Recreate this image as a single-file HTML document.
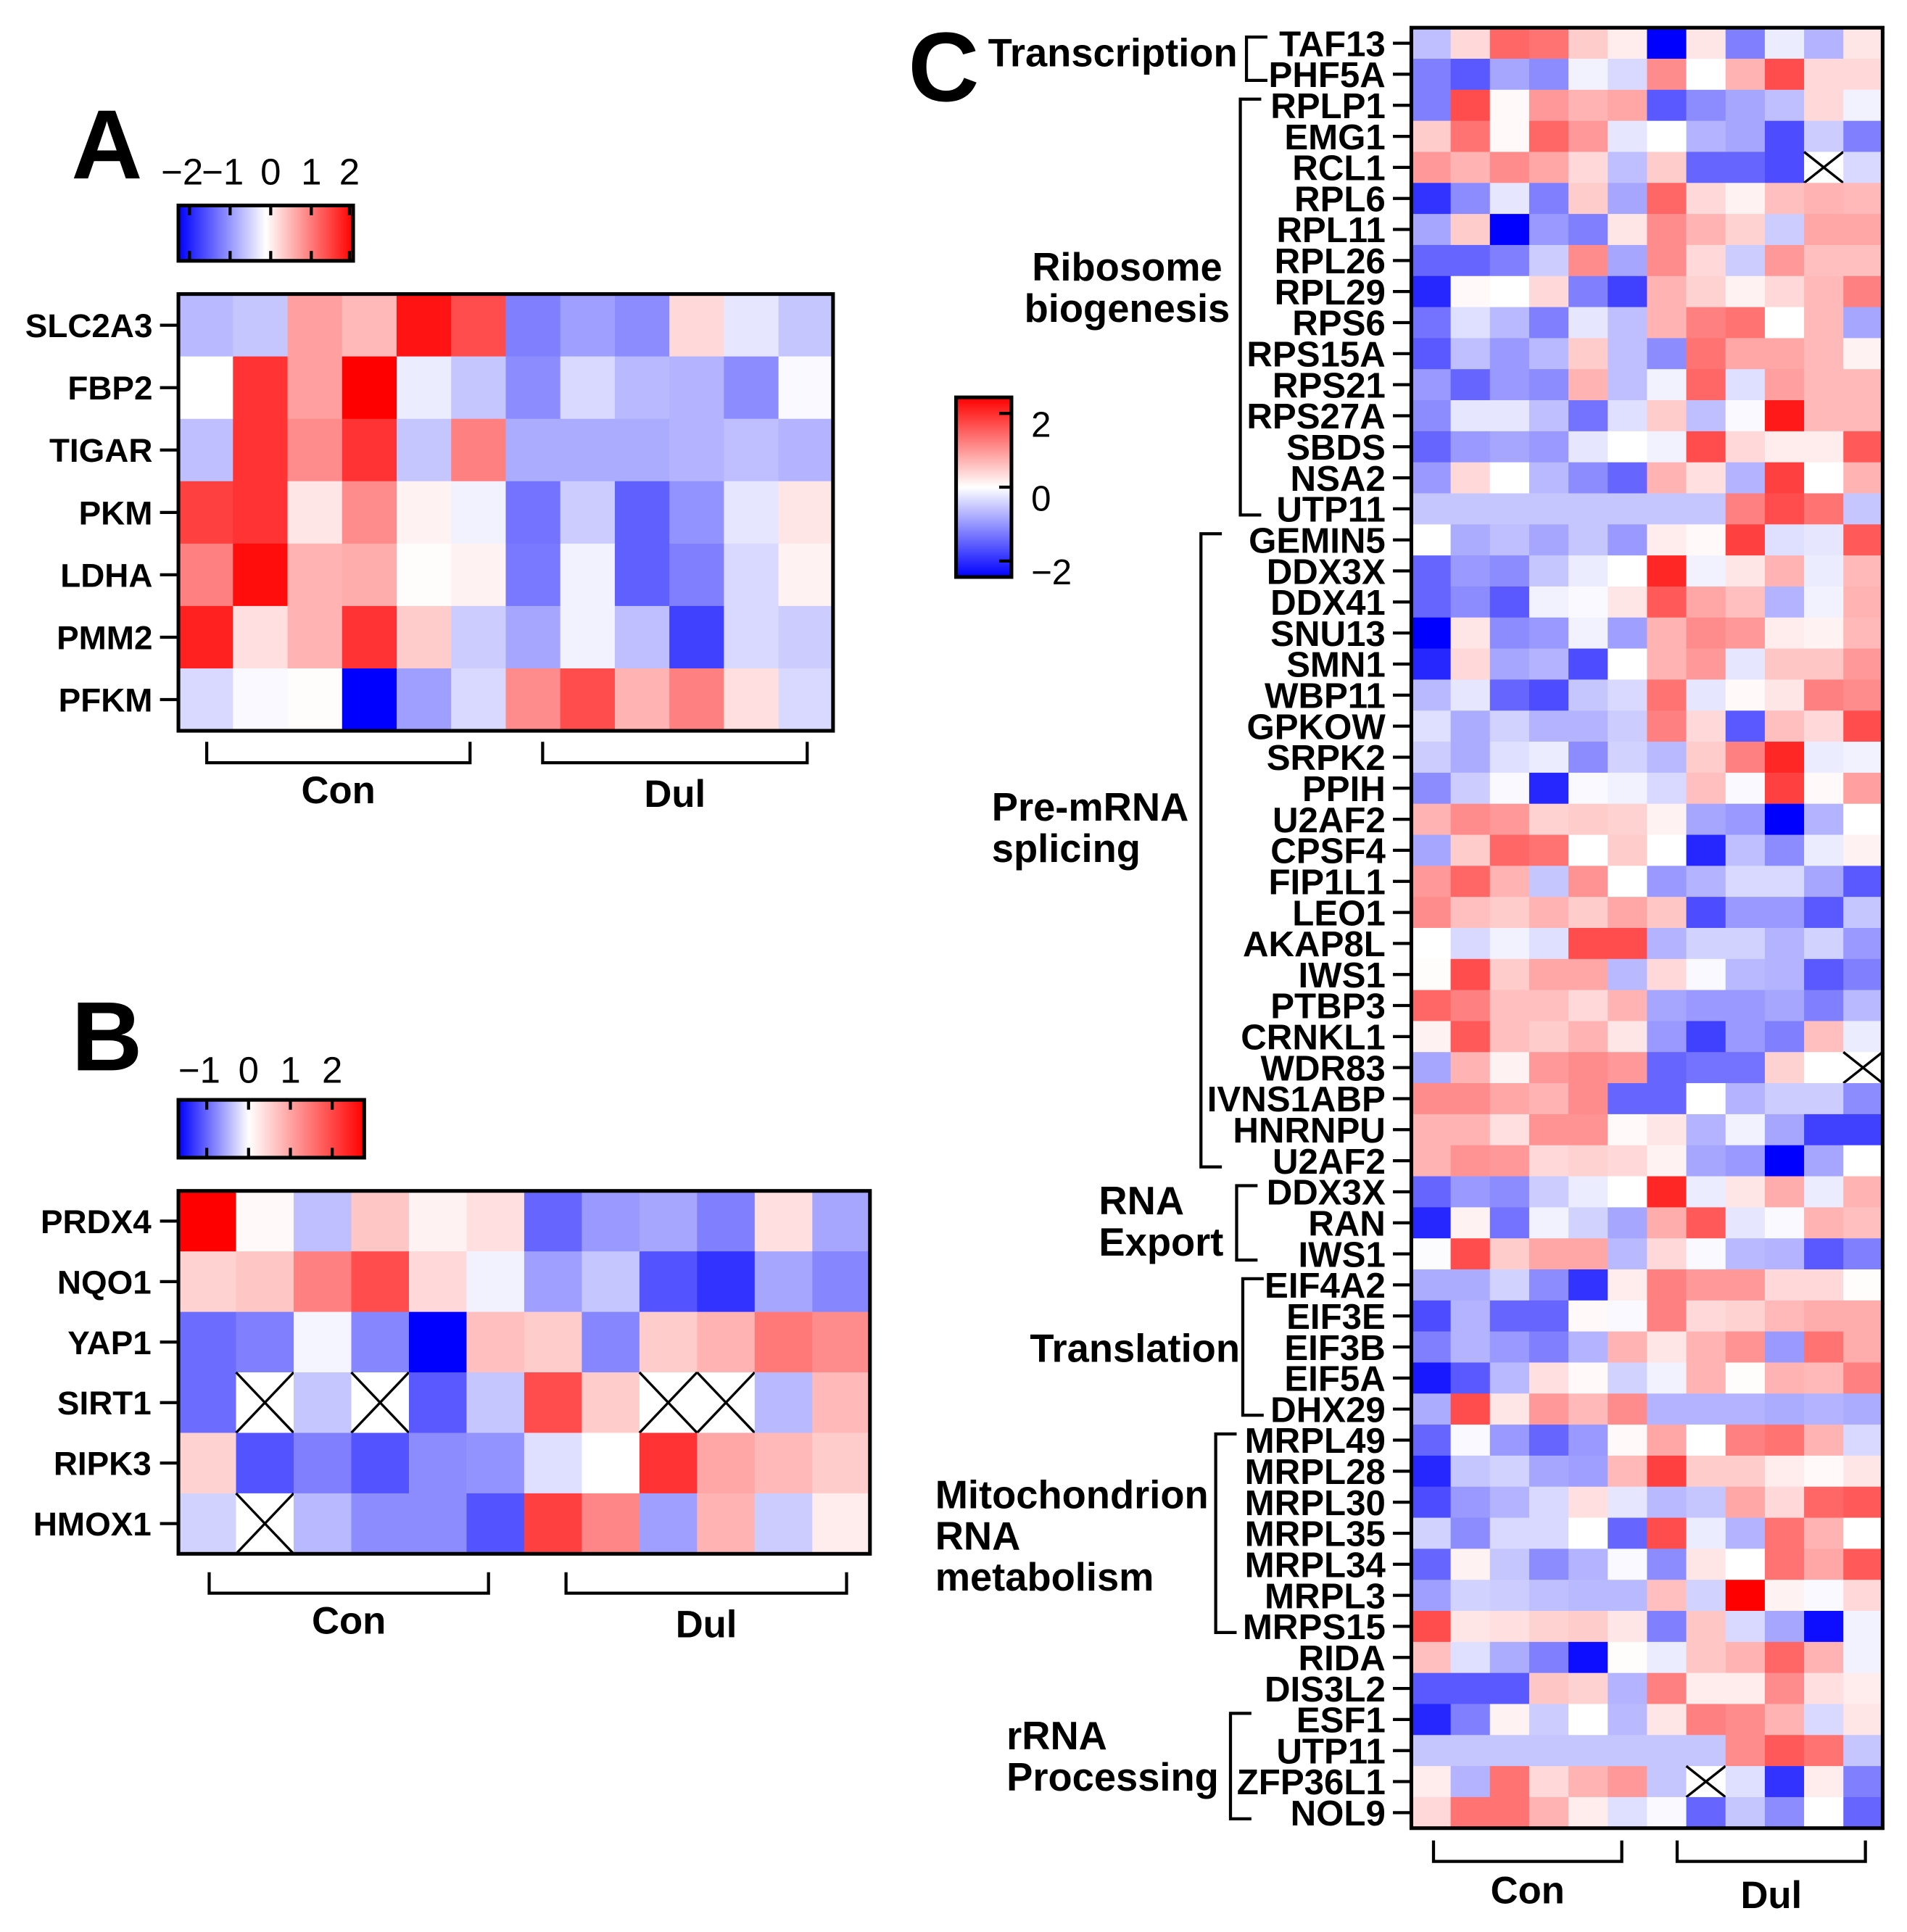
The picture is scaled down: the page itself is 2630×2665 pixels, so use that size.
<!DOCTYPE html>
<html><head><meta charset="utf-8"><style>
html,body{margin:0;padding:0;background:#fff;}
svg{display:block;}
text{font-family:"Liberation Sans",sans-serif;font-weight:bold;fill:#000;}
.n{font-family:"Liberation Sans Narrow","Liberation Sans",sans-serif;}
</style></head><body>
<svg id="fig" width="2630" height="2665" viewBox="0 0 1549.8 1570.4" xmlns="http://www.w3.org/2000/svg"></svg>
<script>
// ---- Panel A data ----
const rowsA = ["SLC2A3","FBP2","TIGAR","PKM","LDHA","PMM2","PFKM"];
const valsA = [
 [-0.55,-0.45,0.75,0.55,1.85,1.4,-1.0,-0.75,-0.9,0.3,-0.2,-0.45],
 [0,1.6,0.75,2.0,-0.15,-0.45,-0.9,-0.3,-0.55,-0.6,-0.9,-0.05],
 [-0.5,1.6,0.9,1.6,-0.45,1.0,-0.65,-0.65,-0.65,-0.6,-0.5,-0.6],
 [1.5,1.6,0.2,0.9,0.1,-0.1,-1.1,-0.4,-1.25,-0.85,-0.2,0.2],
 [1.0,1.9,0.6,0.65,0.02,0.1,-1.05,-0.1,-1.25,-1.0,-0.3,0.1],
 [1.75,0.25,0.6,1.6,0.4,-0.4,-0.7,-0.1,-0.5,-1.5,-0.3,-0.4],
 [-0.3,-0.05,0.02,-2.0,-0.75,-0.3,0.9,1.4,0.6,1.0,0.25,-0.3]
];
const ticksA = ["\u22122","\u22121","0","1","2"];
// ---- Panel B data ----
const rowsB = ["PRDX4","NQO1","YAP1","SIRT1","RIPK3","HMOX1"];
const valsB = [
 [2.0,0.05,-0.5,0.45,0.1,0.25,-1.2,-0.8,-0.7,-1.0,0.25,-0.7],
 [0.35,0.45,1.0,1.4,0.3,-0.1,-0.75,-0.45,-1.35,-1.6,-0.7,-0.95],
 [-1.15,-1.0,-0.08,-0.95,-2.0,0.5,0.4,-0.95,0.4,0.6,1.05,0.9],
 [-1.15,null,-0.45,null,-1.3,-0.45,1.4,0.4,null,null,-0.55,0.55],
 [0.35,-1.35,-1.0,-1.35,-0.9,-0.85,-0.25,0,1.6,0.7,0.55,0.4],
 [-0.35,null,-0.55,-0.9,-0.9,-1.35,1.5,0.95,-0.75,0.6,-0.4,0.15]
];
const ticksB = ["\u22121","0","1","2"];
// ---- Panel C data ----
const rowsC = ["TAF13","PHF5A","RPLP1","EMG1","RCL1","RPL6","RPL11","RPL26","RPL29","RPS6","RPS15A","RPS21","RPS27A","SBDS","NSA2","UTP11","GEMIN5","DDX3X","DDX41","SNU13","SMN1","WBP11","GPKOW","SRPK2","PPIH","U2AF2","CPSF4","FIP1L1","LEO1","AKAP8L","IWS1","PTBP3","CRNKL1","WDR83","IVNS1ABP","HNRNPU","U2AF2","DDX3X","RAN","IWS1","EIF4A2","EIF3E","EIF3B","EIF5A","DHX29","MRPL49","MRPL28","MRPL30","MRPL35","MRPL34","MRPL3","MRPS15","RIDA","DIS3L2","ESF1","UTP11","ZFP36L1","NOL9"];
const valsC = [
 [-0.5,0.3,1.2,1.1,0.4,0.15,-2,0.2,-1.0,-0.15,-0.6,0.2],
 [-1.0,-1.3,-0.7,-0.9,-0.1,-0.3,0.9,0,0.6,1.4,0.3,0.3],
 [-1.0,1.4,0.05,0.8,0.6,0.7,-1.3,-0.9,-0.7,-0.5,0.3,-0.1],
 [0.4,1.1,0.05,1.2,0.8,-0.2,0,-0.6,-0.7,-1.4,-0.4,-1.0],
 [0.8,0.6,0.9,0.7,0.3,-0.5,0.4,-1.2,-1.2,-1.4,null,-0.3],
 [-1.6,-0.9,-0.2,-1.0,0.4,-0.7,1.2,0.3,0.1,0.5,0.6,0.55],
 [-0.7,0.4,-2,-0.8,-1.0,0.2,0.9,0.6,0.35,-0.4,0.7,0.7],
 [-1.2,-1.2,-1.0,-0.4,0.9,-0.7,0.9,0.3,-0.4,0.8,0.5,0.5],
 [-1.7,0.05,0,0.3,-1.0,-1.5,0.6,0.35,0.1,0.3,0.55,1.0],
 [-1.1,-0.25,-0.55,-1.0,-0.2,-0.5,0.6,1.0,1.1,0,0.55,-0.7],
 [-1.3,-0.5,-0.8,-0.55,0.4,-0.5,-0.9,1.1,0.7,0.7,0.55,0.1],
 [-0.8,-1.2,-0.8,-0.9,0.6,-0.5,-0.1,1.2,-0.25,0.75,0.55,0.55],
 [-0.9,-0.2,-0.2,-0.5,-1.1,-0.25,0.4,-0.5,-0.05,1.8,0.55,0.55],
 [-1.2,-0.8,-0.7,-0.8,-0.2,0,-0.1,1.4,0.3,0.15,0.15,1.3],
 [-0.8,0.3,0,-0.55,-0.9,-1.2,0.6,0.25,-0.6,1.5,0,0.6],
 [-0.45,-0.45,-0.45,-0.45,-0.45,-0.45,-0.45,-0.45,1.0,1.4,1.1,-0.45],
 [0,-0.65,-0.5,-0.7,-0.45,-0.8,0.15,0.05,1.5,-0.25,-0.2,1.3],
 [-1.2,-0.8,-0.9,-0.45,-0.15,0,1.7,-0.1,0.2,0.6,-0.15,0.55],
 [-1.2,-0.9,-1.3,-0.1,-0.05,0.2,1.3,0.7,0.5,-0.6,-0.1,0.6],
 [-2,0.2,-0.9,-0.8,-0.1,-0.75,0.6,0.9,0.8,0.15,0.1,0.55],
 [-1.7,0.3,-0.7,-0.6,-1.4,0,0.6,0.8,-0.2,0.45,0.45,0.8],
 [-0.55,-0.2,-1.2,-1.4,-0.45,-0.3,1.1,-0.2,0.05,0.2,1.0,0.9],
 [-0.25,-0.65,-0.35,-0.6,-0.6,-0.4,1.0,0.3,-1.3,0.5,0.3,1.4],
 [-0.4,-0.65,-0.25,-0.15,-0.9,-0.35,-0.55,0.4,1.0,1.7,-0.15,-0.1],
 [-0.9,-0.4,-0.05,-1.7,-0.05,-0.1,-0.3,0.5,-0.05,1.5,0.05,0.75],
 [0.6,0.9,0.8,0.35,0.4,0.35,0.1,-0.7,-0.8,-2,-0.6,0],
 [-0.7,0.4,1.2,1.1,0,0.4,0,-1.7,-0.5,-0.9,-0.15,0.1],
 [0.8,1.2,0.6,-0.45,0.85,0,-0.8,-0.6,-0.3,-0.3,-0.7,-1.3],
 [0.9,0.5,0.4,0.6,0.4,0.7,0.45,-1.4,-0.8,-0.8,-1.3,-0.45],
 [0,-0.3,-0.1,-0.25,1.4,1.4,-0.6,-0.35,-0.35,-0.6,-0.35,-0.8],
 [0.02,1.4,0.4,0.7,0.7,-0.55,0.3,-0.05,-0.55,-0.6,-1.3,-1.0],
 [1.2,1.0,0.5,0.5,0.3,0.6,-0.7,-0.8,-0.8,-0.7,-1.0,-0.55],
 [0.1,1.3,0.5,0.4,0.6,0.2,-0.8,-1.5,-0.8,-1.0,0.5,-0.15],
 [-0.7,0.6,0.1,0.8,0.9,0.8,-1.2,-1.1,-1.1,0.35,0,null],
 [0.9,0.9,0.7,0.6,0.9,-1.2,-1.2,0,-0.6,-0.4,-0.4,-0.9],
 [0.6,0.6,0.25,0.85,0.85,0.05,0.2,-0.6,-0.1,-0.7,-1.5,-1.5],
 [0.6,0.85,0.8,0.3,0.35,0.3,0.1,-0.7,-0.8,-2,-0.7,0],
 [-1.2,-0.8,-0.9,-0.4,-0.15,0,1.7,-0.15,0.2,0.65,-0.15,0.6],
 [-1.7,0.1,-1.1,-0.1,-0.35,-0.7,0.65,1.3,-0.2,-0.05,0.6,0.5],
 [-0.02,1.4,0.4,0.7,0.7,-0.55,0.3,-0.05,-0.55,-0.6,-1.3,-1.0],
 [-0.65,-0.65,-0.35,-0.9,-1.6,0.15,1.0,0.8,0.8,0.3,0.3,0.02],
 [-1.4,-0.6,-1.2,-1.2,0.05,-0.05,1.0,0.3,0.35,0.55,0.65,0.65],
 [-1.0,-0.6,-0.8,-1.0,-0.6,0.6,0.2,0.6,0.85,-0.8,1.1,0.65],
 [-1.8,-1.3,-0.55,0.25,0.05,-0.35,-0.1,0.6,0.02,0.6,0.55,1.0],
 [-0.65,1.4,0.2,0.8,0.55,0.9,-0.6,-0.6,-0.6,-0.65,-0.6,-0.65],
 [-1.2,-0.05,-0.8,-1.2,-0.8,0.05,0.7,0,1.0,1.1,0.6,-0.3],
 [-1.7,-0.45,-0.35,-0.7,-0.75,0.55,1.5,0.4,0.4,0.15,0.05,0.2],
 [-1.4,-0.8,-0.6,-0.3,0.25,-0.2,-0.55,-0.45,0.7,0.3,1.2,1.3],
 [-0.35,-0.9,-0.3,-0.3,0,-1.2,1.4,-0.15,-0.6,1.1,0.6,0],
 [-1.2,0.1,-0.45,-0.9,-0.6,-0.05,-0.9,0.2,0,1.1,0.7,1.3],
 [-0.75,-0.35,-0.4,-0.5,-0.55,-0.55,0.5,-0.35,2.0,0.1,-0.05,0.3],
 [1.4,0.2,0.25,0.35,0.4,0.2,-1.0,0.45,-0.3,-0.7,-1.9,-0.1],
 [0.5,-0.25,-0.65,-1.0,-1.9,0.02,-0.15,0.45,0.6,1.2,0.6,-0.1],
 [-1.3,-1.3,-1.3,0.45,0.35,-0.6,1.0,0.15,0.15,0.9,0.25,0.15],
 [-1.7,-1.0,0.1,-0.4,0,-0.55,0.2,1.0,0.9,0.6,-0.3,0.2],
 [-0.45,-0.45,-0.45,-0.45,-0.45,-0.45,-0.45,-0.45,0.9,1.3,1.1,-0.45],
 [0.15,-0.6,1.1,0.3,0.6,0.8,-0.45,null,-0.25,-1.6,0.15,-1.0],
 [0.3,1.1,1.1,0.6,0.15,-0.25,-0.05,-1.2,-0.45,-0.9,0,-1.2]
];
const ticksC = ["2","0","\u22122"];
const groupsC = [["Transcription",0,1],["Ribosome biogenesis",2,15],["Pre-mRNA splicing",16,36],["RNA Export",37,39],["Translation",40,44],["Mitochondrion RNA metabolism",45,51],["rRNA Processing",54,57]];

const NS="http://www.w3.org/2000/svg";
const svg=document.getElementById('fig');
function mk(tag,attrs,parent){const e=document.createElementNS(NS,tag);for(const k in attrs)e.setAttribute(k,attrs[k]);(parent||svg).appendChild(e);return e;}
function txt(s,attrs,parent){const e=mk('text',attrs,parent);e.textContent=s;return e;}
function color(v){v=Math.max(-2,Math.min(2,v));let r,g,b;
 if(v>=0){const t=v/2;r=255;g=Math.round(255*(1-t));b=g;}else{const t=-v/2;b=255;r=Math.round(255*(1-t));g=r;}
 return `rgb(${r},${g},${b})`;}

function heatmap(name,rows,vals,x0,y0,x1,y1,labelX,fs,narrow){
 const g=mk('g',{});
 
 
 const nr=rows.length,nc=vals[0].length,cw=(x1-x0)/nc,rh=(y1-y0)/nr;
 const xs=c=>x0+c*cw, ys=r=>y0+r*rh;
 vals.forEach((row,r)=>row.forEach((v,c)=>{
  const x=xs(c),y=ys(r);
  if(v===null){
   const cell=mk('rect',{x:x,y:y,width:cw+0.5,height:rh+0.5,fill:'#fff'},g);
   
   
   mk('line',{x1:x,y1:y,x2:x+cw,y2:y+rh,stroke:'#000','stroke-width':2},g);
   mk('line',{x1:x+cw,y1:y,x2:x,y2:y+rh,stroke:'#000','stroke-width':2},g);
  } else {
   const cell=mk('rect',{x:x,y:y,width:cw+0.5,height:rh+0.5,fill:color(v)},g);
   
   
  }
 }));
 mk('rect',{x:x0,y:y0,width:x1-x0,height:y1-y0,fill:'none',stroke:'#000','stroke-width':3},g);
 rows.forEach((lab,r)=>{
  const cy=ys(r)+rh/2;
  mk('line',{x1:x0-15,y1:cy,x2:x0,y2:cy,stroke:'#000','stroke-width':2.5},g);
  const t=txt(lab,{x:labelX,y:cy+fs*0.36,'text-anchor':'end','font-size':fs,class:narrow?'n':''},g);
  
  
 });
}
function bracket(name,x0,x1,y,label,ly){
 const p=mk('path',{d:`M${x0},${y-17}V${y}H${x1}V${y-17}`,fill:'none',stroke:'#000','stroke-width':2.5});
 
 
 const t=txt(label,{x:(x0+x1)/2,y:ly,'text-anchor':'middle','font-size':31});
 
 
}
// gradient
const defs=mk('defs',{});
const gh=mk('linearGradient',{id:'gh',x1:0,y1:0,x2:1,y2:0},defs);
mk('stop',{offset:'0','stop-color':'#0000ff'},gh);mk('stop',{offset:'0.5','stop-color':'#ffffff'},gh);mk('stop',{offset:'1','stop-color':'#ff0000'},gh);
const gb=mk('linearGradient',{id:'gb',x1:0,y1:0,x2:1,y2:0},defs);
mk('stop',{offset:'0','stop-color':'#0000ff'},gb);mk('stop',{offset:'0.38','stop-color':'#ffffff'},gb);mk('stop',{offset:'1','stop-color':'#ff0000'},gb);
const gv=mk('linearGradient',{id:'gv',x1:0,y1:1,x2:0,y2:0},defs);
mk('stop',{offset:'0','stop-color':'#0000ff'},gv);mk('stop',{offset:'0.5','stop-color':'#ffffff'},gv);mk('stop',{offset:'1','stop-color':'#ff0000'},gv);

// ---- Panel A ----
let t=txt('A',{x:58,y:145,'font-size':80});
let cb=mk('rect',{x:145,y:167,width:142,height:45,fill:'url(#gh)',stroke:'#000','stroke-width':3});

const tickXA=[154,187,220,253,284];
ticksA.forEach((s,i)=>{const x=tickXA[i];
 mk('line',{x1:x,y1:167,x2:x,y2:175,stroke:'#000','stroke-width':2.5});mk('line',{x1:x,y1:204,x2:x,y2:212,stroke:'#000','stroke-width':2.5});
 const l=txt(s,{x:x-(s.length>1?6:0),y:150,'text-anchor':'middle','font-size':30,style:'font-weight:normal'});
 });
heatmap('heatmap-a',rowsA,valsA,145,239,677,594,124,27,false);
bracket('con-a',168,382,620,'Con',653);
bracket('dul-a',441,656,620,'Dul',656);

// ---- Panel B ----
t=txt('B',{x:58,y:870,'font-size':80});
cb=mk('rect',{x:145,y:894,width:151,height:47,fill:'url(#gb)',stroke:'#000','stroke-width':3});

ticksB.forEach((s,i)=>{const x=168+i*34;
 mk('line',{x1:x,y1:894,x2:x,y2:902,stroke:'#000','stroke-width':2.5});mk('line',{x1:x,y1:933,x2:x,y2:941,stroke:'#000','stroke-width':2.5});
 const l=txt(s,{x:x-(s.length>1?6:0),y:880,'text-anchor':'middle','font-size':30,style:'font-weight:normal'});
 });
heatmap('heatmap-b',rowsB,valsB,145,968,707,1263,123,27,false);
bracket('con-b',170,397,1295,'Con',1328);
bracket('dul-b',460,688,1295,'Dul',1331);

// ---- Panel C ----
t=txt('C',{x:738,y:82,'font-size':80});
cb=mk('rect',{x:777,y:323,width:45,height:146,fill:'url(#gv)',stroke:'#000','stroke-width':3});

ticksC.forEach((s,i)=>{const y=336+i*60;
 mk('line',{x1:812,y1:y,x2:822,y2:y,stroke:'#000','stroke-width':2.5});
 const l=txt(s,{x:838,y:y+19,'font-size':29,style:'font-weight:normal'});
 });
const cy0=22.5,cy1=1486;
heatmap('heatmap-c',rowsC,valsC,1147,cy0,1530,cy1,1126,29,true);
const rhC=(cy1-cy0)/rowsC.length;
const rc=r=>cy0+rhC*(r+0.5);
const brX=[1013,1008,976,1005,1010,988,1000];
const labelPos=[[803,44,'start'],[916,218,'middle'],[806,657,'start'],[893,977,'start'],[837,1097,'start'],[760,1216,'start'],[818,1412,'start']];
groupsC.forEach((gr,i)=>{
 const [name,a,b]=gr;const x=brX[i];const ya=rc(a)-5,yb=rc(b)+5;
 const p=mk('path',{d:`M${x+17},${ya}H${x}V${yb}H${x+17}`,fill:'none',stroke:'#000','stroke-width':2.5});
 
 const words=name==='Transcription'||name==='Translation'?[name]:name==='Mitochondrion RNA metabolism'?['Mitochondrion','RNA','metabolism']:name.split(' ');
 const [lx,ly,anc]=labelPos[i];
 words.forEach((w,j)=>{const l=txt(w,{x:lx,y:ly+10+j*33.5,'text-anchor':anc,'font-size':32});
  });
});
bracket('con-c',1165,1318,1513,'Con',1547);
bracket('dul-c',1363,1516,1513,'Dul',1551);
</script>
</body></html>
